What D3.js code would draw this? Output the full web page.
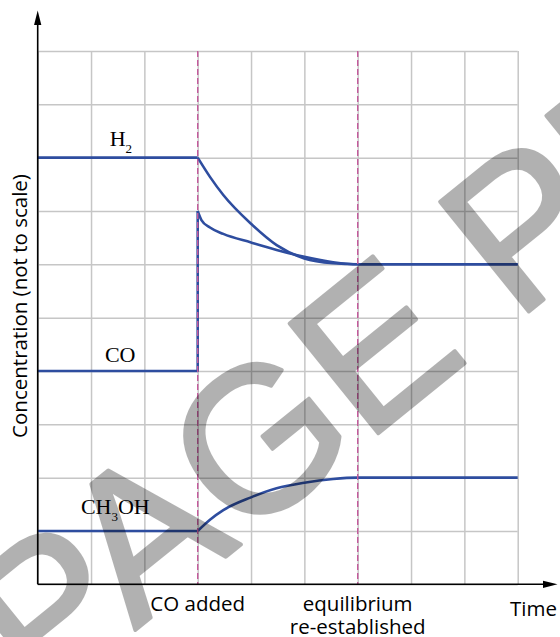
<!DOCTYPE html>
<html>
<head>
<meta charset="utf-8">
<script src="https://cdn.jsdelivr.net/npm/d3@7"></script>
<style>
  html, body { margin: 0; padding: 0; background: #fff; }
  svg { display: block; }
</style>
</head>
<body>
<svg id="chart" width="560" height="637"></svg>
<script>
// ---- data (time in grid units 0..9, concentration in grid units 0..10) ----
const xDomain = [0, 9];
const yDomain = [0, 10];
const eventTimes = [3, 6];            // CO added, equilibrium re-established
const eventLabels = [["CO added"], ["equilibrium", "re-established"]];

const h2Before = [[0, 8], [3, 8]];
const h2After = [[3, 8], [3.23, 7.64], [3.48, 7.30], [4, 6.76], [4.48, 6.36], [5, 6.11], [5.54, 6.02], [6, 6], [9, 6]];

const coBefore = [[0, 4], [3, 4], [3, 7]];
const coAfter = [[3, 7], [3.07, 6.83], [3.23, 6.69], [3.48, 6.57], [4, 6.41], [4.48, 6.27], [5, 6.14], [5.54, 6.04], [6, 6], [9, 6]];

const ch3ohBefore = [[0, 1], [3, 1]];
const ch3ohAfter = [[3, 1], [3.23, 1.21], [3.48, 1.39], [4, 1.63], [4.48, 1.80], [5, 1.905], [5.54, 1.975], [6, 2], [9, 2]];

// species labels: [main, subscript, rest], anchor point in data units
const speciesLabels = [
  { parts: ["H", "2", ""], at: [1.35, 8.22] },
  { parts: ["CO", "", ""], at: [1.26, 4.17] },
  { parts: ["CH", "3", "OH"], at: [0.81, 1.32] }
];

const yTitle = "Concentration (not to scale)";
const xTitle = "Time";
const watermark = "PAGE PREVIEW";

// ---- layout ----
const svg = d3.select("#chart");
const mLeft = 37.7, mTop = 51, mRight = 517.7, mBottom = 584.3;
const x = d3.scaleLinear().domain(xDomain).range([mLeft, mRight]);
const y = d3.scaleLinear().domain(yDomain).range([mBottom, mTop]);

const blue = "#2e4d9f";
const gridColor = "#c6c6c6";

// grid via axes
svg.append("g")
  .attr("transform", `translate(0,${mBottom})`)
  .call(d3.axisBottom(x).ticks(9).tickSize(-(mBottom - mTop)).tickFormat(""))
  .call(g => g.select(".domain").remove())
  .call(g => g.selectAll("line").attr("stroke", gridColor).attr("stroke-width", 1.5));
svg.append("g")
  .attr("transform", `translate(${mLeft},0)`)
  .call(d3.axisLeft(y).ticks(10).tickSize(-(mRight - mLeft)).tickFormat(""))
  .call(g => g.select(".domain").remove())
  .call(g => g.selectAll("line").attr("stroke", gridColor).attr("stroke-width", 1.5));

// curves
const lin = d3.line().x(d => x(d[0])).y(d => y(d[1]));
const smooth = d3.line().x(d => x(d[0])).y(d => y(d[1])).curve(d3.curveMonotoneX);

[h2Before, coBefore, ch3ohBefore].forEach(s => {
  svg.append("path").attr("d", lin(s)).attr("fill", "none")
    .attr("stroke", blue).attr("stroke-width", 2.6).attr("stroke-linejoin", "round");
});
[h2After, coAfter, ch3ohAfter].forEach(s => {
  svg.append("path").attr("d", smooth(s)).attr("fill", "none")
    .attr("stroke", blue).attr("stroke-width", 2.6).attr("stroke-linejoin", "round");
});

// event dashed lines
svg.selectAll("line.event").data(eventTimes).join("line")
  .attr("class", "event")
  .attr("x1", d => x(d)).attr("x2", d => x(d))
  .attr("y1", mTop).attr("y2", mBottom)
  .attr("stroke", "#c45a9c").attr("stroke-width", 1.4)
  .attr("stroke-dasharray", "6,3");

// axes with arrows
svg.append("line").attr("x1", mLeft).attr("x2", mLeft).attr("y1", mBottom).attr("y2", 22)
  .attr("stroke", "#000").attr("stroke-width", 1.6);
svg.append("path").attr("d", `M${mLeft},10.5 L${mLeft - 3.6},25 L${mLeft + 3.6},25 Z`).attr("fill", "#000");
svg.append("line").attr("x1", mLeft).attr("x2", 546).attr("y1", mBottom).attr("y2", mBottom)
  .attr("stroke", "#000").attr("stroke-width", 1.6);
svg.append("path").attr("d", `M557.5,${mBottom} L543,${mBottom - 3.6} L543,${mBottom + 3.6} Z`).attr("fill", "#000");

// species labels (serif)
speciesLabels.forEach(l => {
  const t = svg.append("text")
    .attr("x", x(l.at[0])).attr("y", y(l.at[1]))
    .attr("font-family", "'Liberation Serif', 'Times New Roman', serif")
    .attr("font-size", 22).attr("fill", "#000");
  t.append("tspan").text(l.parts[0]);
  if (l.parts[1]) t.append("tspan").attr("dy", 7).attr("font-size", 13).text(l.parts[1]);
  if (l.parts[2]) t.append("tspan").attr("dy", -7).text(l.parts[2]);
});

// event labels
const sans = "'Open Sans', 'Noto Sans', sans-serif";
eventTimes.forEach((t, i) => {
  const txt = svg.append("text").attr("text-anchor", "middle")
    .attr("font-family", sans).attr("font-size", 20.5).attr("fill", "#000");
  eventLabels[i].forEach((line, j) => {
    txt.append("tspan").attr("x", x(t)).attr("y", 611 + j * 23).text(line);
  });
});

svg.append("text").attr("x", 510).attr("y", 616)
  .attr("font-family", sans).attr("font-size", 20.5).attr("fill", "#000").text(xTitle);

svg.append("text")
  .attr("transform", "translate(26.5,306) rotate(-90)")
  .attr("text-anchor", "middle")
  .attr("font-family", sans).attr("font-size", 20.5).attr("fill", "#000").text(yTitle);

// watermark (drawn over everything, translucent)
svg.append("g").attr("opacity", 0.3)
  .append("text")
  .attr("transform", "translate(40.6,706.7) rotate(-39)")
  .attr("font-family", "'Liberation Sans', Arial, sans-serif").attr("font-size", 205)
  .attr("fill", "#000").attr("stroke", "#000").attr("stroke-width", 4)
  .attr("stroke-linejoin", "round")
  .text(watermark);
</script>
</body>
</html>
